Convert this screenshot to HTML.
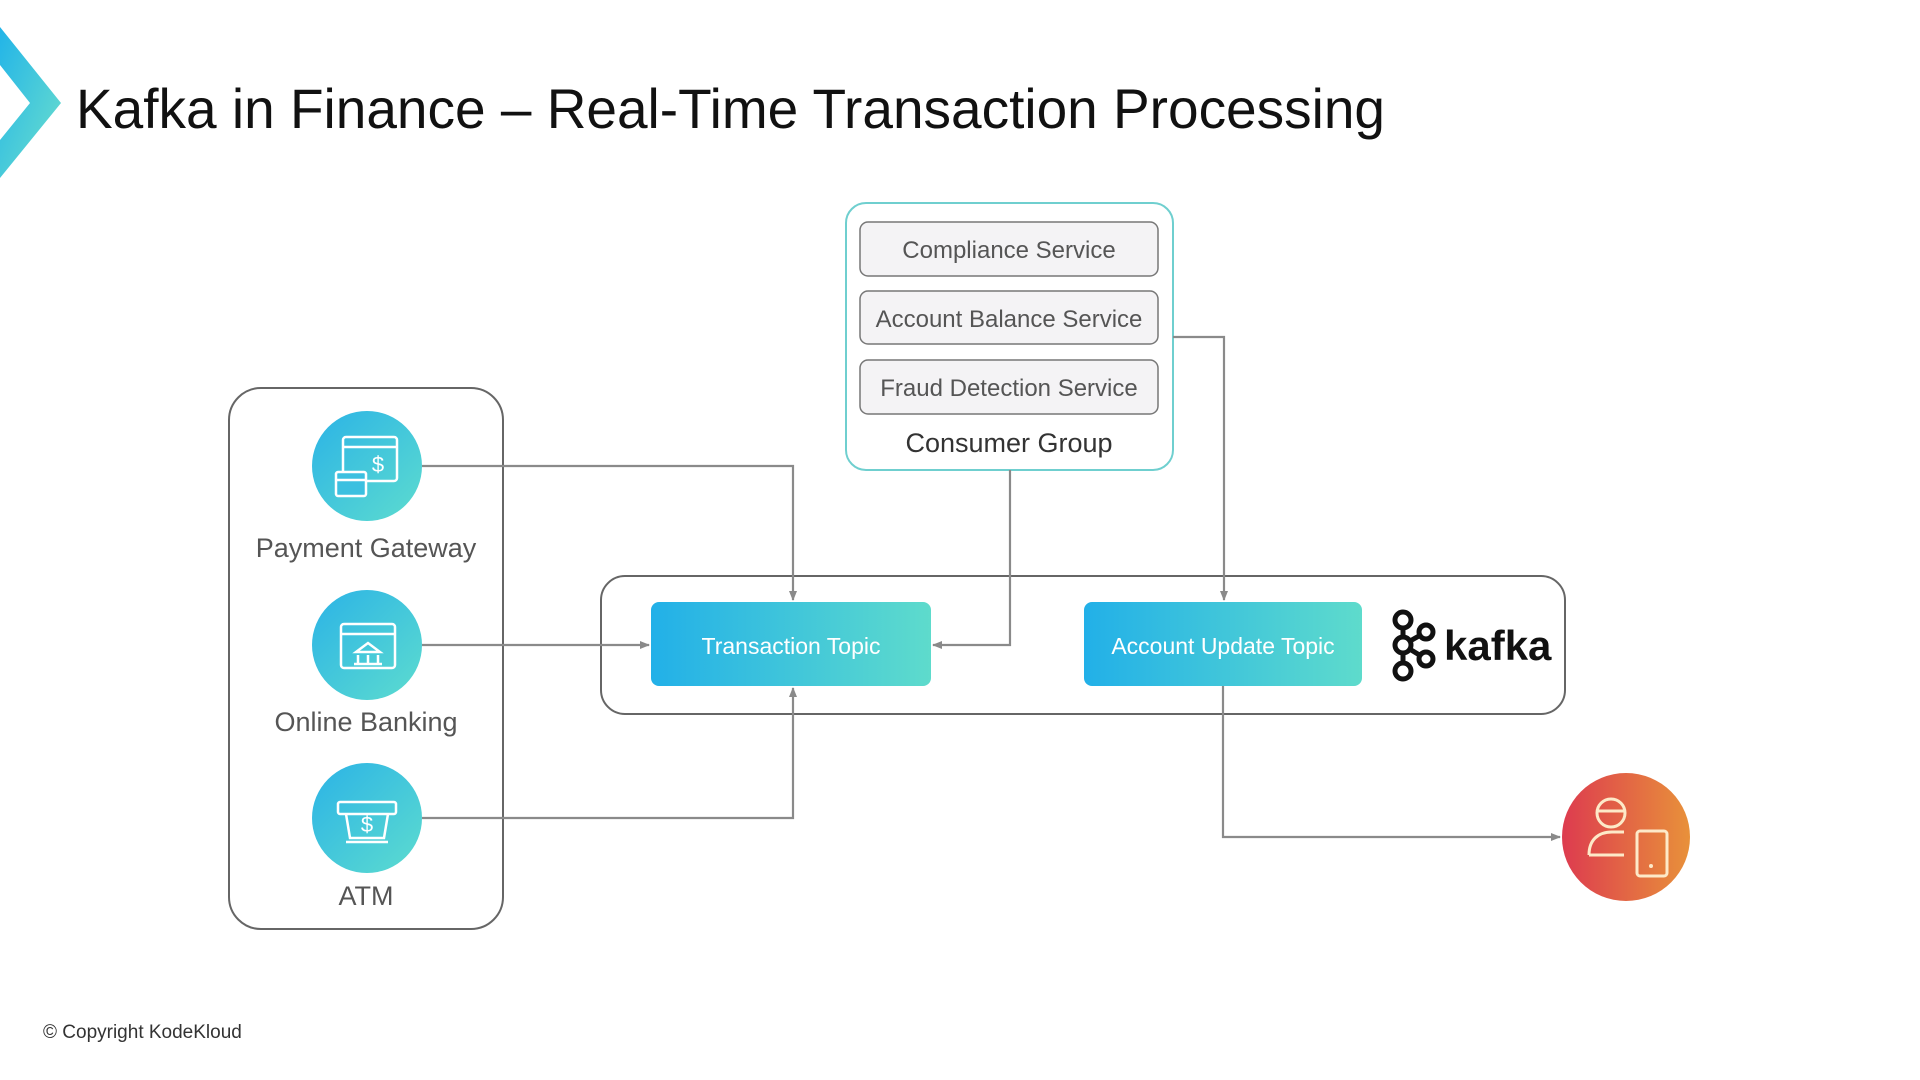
<!DOCTYPE html>
<html><head><meta charset="utf-8"><style>
html,body{margin:0;padding:0;background:#fff;width:1920px;height:1080px;overflow:hidden}
svg text{font-family:"Liberation Sans",sans-serif}
</style></head><body>
<svg width="1920" height="1080" viewBox="0 0 1920 1080" xmlns="http://www.w3.org/2000/svg">
<defs>
<linearGradient id="tg" x1="0" y1="0" x2="1" y2="1"><stop offset="0" stop-color="#2bb3e6"/><stop offset="1" stop-color="#5ddccf"/></linearGradient>
<linearGradient id="bg" x1="0" y1="0" x2="1" y2="0"><stop offset="0" stop-color="#22b0e8"/><stop offset="1" stop-color="#5edbcc"/></linearGradient>
<linearGradient id="og" x1="0" y1="0" x2="1" y2="0"><stop offset="0" stop-color="#dd3b4f"/><stop offset="1" stop-color="#e8913a"/></linearGradient>
<linearGradient id="cg" x1="0" y1="0" x2="1" y2="1"><stop offset="0" stop-color="#22b4e8"/><stop offset="1" stop-color="#6de0cc"/></linearGradient>
<marker id="ar" markerWidth="10" markerHeight="10" refX="9" refY="5" orient="auto" markerUnits="userSpaceOnUse"><path d="M0,1 L10,5 L0,9 Z" fill="#8a8a8a"/></marker>
</defs>
<path d="M0,27 L61,103 L0,178 L0,140 L30,103 L0,65 Z" fill="url(#cg)"/>
<text x="76" y="128" font-size="56" fill="#111" textLength="1309" lengthAdjust="spacingAndGlyphs">Kafka in Finance – Real-Time Transaction Processing</text>

<rect x="229" y="388" width="274" height="541" rx="32" fill="none" stroke="#666" stroke-width="2"/>
<rect x="846" y="203" width="327" height="267" rx="20" fill="#fff" stroke="#6fcfcf" stroke-width="2"/>
<rect x="860" y="222" width="298" height="54" rx="8" fill="#f4f3f5" stroke="#777" stroke-width="1.5"/>
<rect x="860" y="291" width="298" height="53" rx="8" fill="#f4f3f5" stroke="#777" stroke-width="1.5"/>
<rect x="860" y="360" width="298" height="54" rx="8" fill="#f4f3f5" stroke="#777" stroke-width="1.5"/>
<g font-size="24" fill="#555" text-anchor="middle">
<text x="1009" y="258">Compliance Service</text>
<text x="1009" y="327">Account Balance Service</text>
<text x="1009" y="396">Fraud Detection Service</text>
</g>
<text x="1009" y="452" font-size="27" fill="#333" text-anchor="middle">Consumer Group</text>

<rect x="601" y="576" width="964" height="138" rx="24" fill="none" stroke="#666" stroke-width="2"/>
<rect x="651" y="602" width="280" height="84" rx="8" fill="url(#bg)"/>
<rect x="1084" y="602" width="278" height="84" rx="8" fill="url(#bg)"/>
<text x="791" y="654" font-size="23" fill="#fff" text-anchor="middle">Transaction Topic</text>
<text x="1223" y="654" font-size="23" fill="#fff" text-anchor="middle">Account Update Topic</text>

<g stroke="#111" stroke-width="5" fill="none">
<line x1="1403" y1="620" x2="1403" y2="671"/>
<line x1="1403" y1="645" x2="1426" y2="632"/><line x1="1403" y1="645" x2="1426" y2="659"/>
<circle cx="1403" cy="620" r="8" fill="#fff"/><circle cx="1403" cy="671" r="8" fill="#fff"/><circle cx="1403" cy="645" r="8" fill="#fff"/>
<circle cx="1426" cy="632" r="7" fill="#fff"/><circle cx="1426" cy="659" r="7" fill="#fff"/>
</g>
<text x="1444" y="660" font-size="42" font-weight="bold" fill="#111">kafka</text>

<g stroke="#8a8a8a" stroke-width="2.2" fill="none">
<polyline points="422,466 793,466 793,600" marker-end="url(#ar)"/>
<polyline points="422,645 649,645" marker-end="url(#ar)"/>
<polyline points="422,818 793,818 793,688" marker-end="url(#ar)"/>
<polyline points="1010,470 1010,645 933,645" marker-end="url(#ar)"/>
<polyline points="1173,337 1224,337 1224,600" marker-end="url(#ar)"/>
<polyline points="1223,686 1223,837 1560,837" marker-end="url(#ar)"/>
</g>

<circle cx="367" cy="466" r="55" fill="url(#tg)"/>
<circle cx="367" cy="645" r="55" fill="url(#tg)"/>
<circle cx="367" cy="818" r="55" fill="url(#tg)"/>
<g stroke="#fff" stroke-width="2.5" fill="none">
<rect x="343" y="437" width="54" height="44" rx="3"/><line x1="343" y1="447" x2="397" y2="447"/>
<rect x="336" y="472" width="30" height="24" rx="2" fill="#3cc0e0"/><line x1="336" y1="480" x2="366" y2="480"/>
<rect x="341" y="624" width="54" height="44" rx="3"/><line x1="341" y1="634" x2="395" y2="634"/>
<path d="M356,652 L368,643 L380,652 Z M358,655 V663 M368,655 V663 M378,655 V663 M354,664 H382"/>
<rect x="338" y="802" width="58" height="12" rx="2"/><path d="M346,814 L350,838 H384 L388,814 M346,842 H388"/>
</g>
<g font-size="22" fill="#fff" text-anchor="middle"><text x="378" y="472">$</text><text x="367" y="832">$</text></g>

<g font-size="27" fill="#555" text-anchor="middle">
<text x="366" y="557">Payment Gateway</text>
<text x="366" y="731">Online Banking</text>
<text x="366" y="905">ATM</text>
</g>

<circle cx="1626" cy="837" r="64" fill="url(#og)"/>
<g stroke="#fde9c8" stroke-width="3" fill="none">
<circle cx="1611" cy="813" r="14"/><path d="M1598,811 H1624"/>
<path d="M1589,855 C1589,840 1598,832 1612,832 H1624 M1589,855 H1624"/>
<rect x="1637" y="831" width="30" height="45" rx="3"/>
</g>
<circle cx="1651" cy="866" r="2" fill="#fde9c8"/>

<text x="43" y="1038" font-size="19" fill="#333">© Copyright KodeKloud</text>
</svg>
</body></html>
